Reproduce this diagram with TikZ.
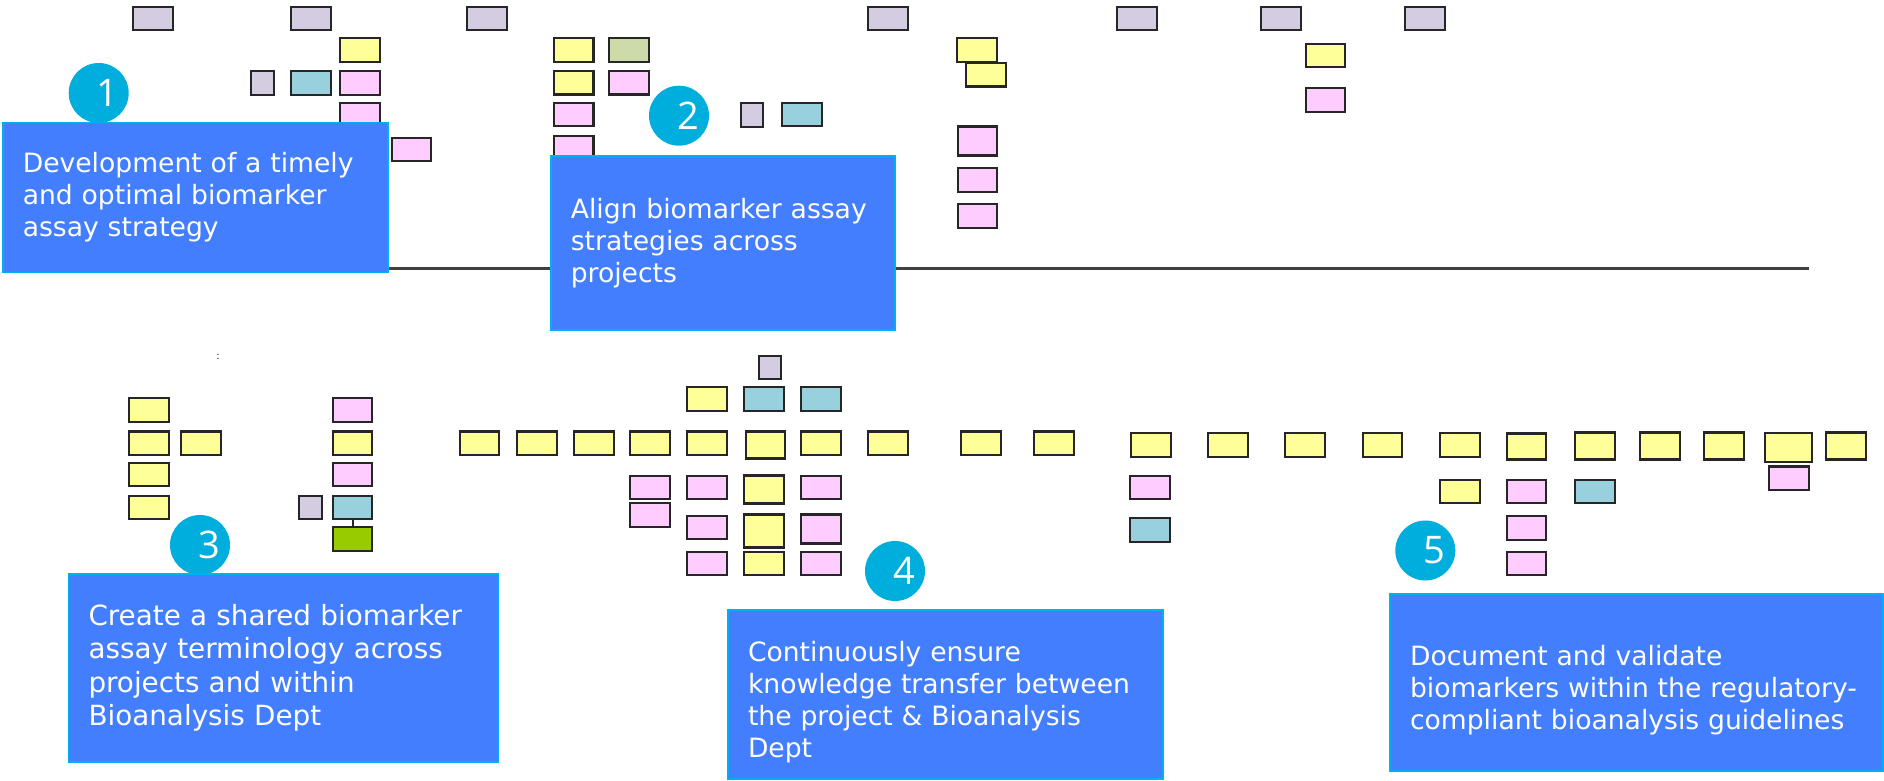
\documentclass[tikz,border=0pt]{standalone}
\usepackage{fontspec}
\setmainfont{DejaVu Sans}
\newfontfamily\numfont{Open Sans}
\definecolor{goalblue}{RGB}{67,126,255}
\definecolor{goalline}{RGB}{0,176,240}
\definecolor{numcyan}{RGB}{0,174,222}
\definecolor{noteyellow}{RGB}{255,255,153}
\definecolor{notepink}{RGB}{255,204,255}
\definecolor{notecyan}{RGB}{153,208,221}
\definecolor{notegray}{RGB}{212,204,224}
\definecolor{noteolive}{RGB}{204,219,168}
\definecolor{notegreen}{RGB}{153,204,0}
\tikzset{
  note/.style={draw=black!85, line width=2.2pt, minimum width=39.5pt, minimum height=23.5pt, inner sep=0pt},
  yel/.style={note, fill=noteyellow},
  pnk/.style={note, fill=notepink},
  cyn/.style={note, fill=notecyan},
  gry/.style={note, fill=notegray},
  olv/.style={note, fill=noteolive},
  grn/.style={note, fill=notegreen},
  sq/.style={gry, minimum width=22.5pt},
  goal/.style={fill=goalblue, draw=goalline, line width=1.5pt, text=white, inner xsep=20pt, inner ysep=0pt,
    align=left, font=\fontsize{26.6}{32}\selectfont},
  num/.style={circle, fill=numcyan, minimum size=60pt, inner sep=0pt, text=white, font=\numfont\fontsize{38}{38}\selectfont}
}
\begin{document}
\begin{tikzpicture}[x=1pt,y=-1pt]
  \useasboundingbox (0,0) rectangle (1884,781);

  \coordinate (lineL) at (300,268);
  \coordinate (lineR) at (1809,268);
  \draw[black!75, line width=3pt] (lineL) -- (lineR);

  \node[gry] (h1) at (153,18.5) {};
  \node[gry] (h2) at (311,18.5) {};
  \node[gry] (h3) at (487,18.5) {};
  \node[gry] (h4) at (888,18.5) {};
  \node[gry] (h5) at (1137,18.5) {};
  \node[gry] (h6) at (1281,18.5) {};
  \node[gry] (h7) at (1425,18.5) {};

  \node[yel] (a1) at (360,50) {};
  \node[sq]  (a2) at (262.5,83) {};
  \node[cyn] (a3) at (311,83) {};
  \node[pnk] (a4) at (360,83) {};
  \node[pnk] (a5) at (360,114.5) {};
  \node[pnk] (a6) at (411.5,149.5) {};

  \node[yel] (b1) at (573.7,50) {};
  \node[olv] (b2) at (629,50) {};
  \node[yel] (b3) at (573.7,82.7) {};
  \node[pnk] (b4) at (629,82.7) {};
  \node[pnk] (b5) at (573.7,114.5) {};
  \node[pnk] (b6) at (573.7,148) {};
  \node[sq]  (b7) at (752,115) {};
  \node[cyn] (b8) at (802,114.5) {};

  \node[yel] (d1) at (977,50) {};
  \node[yel] (d2) at (986,74.7) {};
  \node[pnk, minimum height=29pt] (d3) at (977.5,141) {};
  \node[pnk] (d4) at (977.5,180) {};
  \node[pnk] (d5) at (977.5,216) {};
  \node[yel] (f1) at (1325.5,55.5) {};
  \node[pnk] (f2) at (1325.5,100) {};

  \node[blue!70!black, font=\fontsize{10}{10}\selectfont] (mark) at (218,357) {:};
  \node[yel] (k1) at (149,410) {};
  \node[yel] (k2) at (149,443.3) {};
  \node[yel] (k3) at (201,443.3) {};
  \node[yel] (k4) at (149,474.5) {};
  \node[yel] (k5) at (149,507.5) {};
  \node[pnk] (k6) at (352.5,410) {};
  \node[yel] (k7) at (352.5,443.3) {};
  \node[pnk] (k8) at (352.5,474.5) {};
  \node[sq]  (k9) at (310.5,507.5) {};
  \node[cyn] (k10) at (352.5,507.5) {};
  \node[grn] (k11) at (352.5,539) {};
  \draw[black!85, line width=2pt] (k10) -- (k11);

  \node[sq]  (m0) at (770,367.5) {};
  \node[yel] (m1) at (707,399) {};
  \node[cyn] (m2) at (764,399) {};
  \node[cyn] (m3) at (821,399) {};
  \node[yel] (r1) at (479.5,443.3) {};
  \node[yel] (r2) at (537,443.3) {};
  \node[yel] (r3) at (594,443.3) {};
  \node[yel] (r4) at (650,443.3) {};
  \node[yel] (r5) at (707,443.3) {};
  \node[yel, minimum height=27pt] (r6) at (765.5,445) {};
  \node[yel] (r7) at (821,443.3) {};
  \node[yel] (r8) at (888,443.3) {};
  \node[yel] (r9) at (981,443.3) {};
  \node[yel] (r10) at (1054,443.3) {};
  \node[pnk] (s1) at (650,487.5) {};
  \node[pnk] (s2) at (650,515) {};
  \node[pnk] (s3) at (707,487.5) {};
  \node[pnk] (s4) at (707,527.5) {};
  \node[pnk] (s5) at (707,563.5) {};
  \node[yel, minimum height=28pt] (s6) at (764,489.5) {};
  \node[yel, minimum height=33pt] (s7) at (764,531) {};
  \node[yel] (s8) at (764,563.5) {};
  \node[pnk] (s9) at (821,487.5) {};
  \node[pnk, minimum height=29pt] (s10) at (821,529) {};
  \node[pnk] (s11) at (821,563.5) {};

  \node[yel] (t1) at (1151,445) {};
  \node[pnk] (t2) at (1150,487.5) {};
  \node[cyn] (t3) at (1150,530) {};
  \node[yel] (t4) at (1228,445) {};
  \node[yel] (t5) at (1305,445) {};
  \node[yel] (t6) at (1382.5,445) {};
  \node[yel] (t7) at (1460,445) {};
  \node[yel] (t8) at (1460,491.5) {};
  \node[yel, minimum height=26pt] (t9) at (1526.5,446.5) {};
  \node[pnk] (t10) at (1526.5,491.5) {};
  \node[pnk] (t11) at (1526.5,528) {};
  \node[pnk] (t12) at (1526.5,563.5) {};
  \node[yel, minimum height=27pt] (t13) at (1595,446) {};
  \node[cyn] (t14) at (1595,491.5) {};
  \node[yel, minimum height=27pt] (t15) at (1660,446) {};
  \node[yel, minimum height=27pt] (t16) at (1724,446) {};
  \node[yel, minimum width=47pt, minimum height=29pt] (t17) at (1788.3,447.5) {};
  \node[pnk] (t18) at (1789,478.3) {};
  \node[yel, minimum height=27pt] (t19) at (1846,446) {};

  \node[num] (n1) at (98.7,93) {\hspace*{18pt}1};
  \node[num] (n2) at (679,115.7) {\hspace*{18pt}2};
  \node[num] (n3) at (200,545) {\hspace*{18pt}3};
  \node[num] (n4) at (895,571) {\hspace*{18pt}4};
  \node[num] (n5) at (1425.3,550.5) {\hspace*{18pt}5};

  \node[goal, minimum width=385pt, minimum height=150pt, text width=345pt] (g1) at (195.3,197.5)
    {Development of a timely\\and optimal biomarker\\assay strategy};
  \node[goal, minimum width=344pt, minimum height=174pt, text width=304pt] (g2) at (722.8,243)
    {Align biomarker assay\\strategies across\\projects};
  \node[goal, minimum width=430pt, minimum height=188pt, text width=390pt,
    font=\fontsize{27.8}{33.4}\selectfont] (g3) at (283.5,668)
    {Create a shared biomarker\\assay terminology across\\projects and within\\Bioanalysis Dept};
  \node[goal, minimum width=435pt, minimum height=169pt, text width=395pt] (g4) at (945.5,694.5)
    {\rule{0pt}{36pt}Continuously ensure\\knowledge transfer between\\the project \& Bioanalysis\\Dept};
  \node[goal, minimum width=493pt, minimum height=177pt, text width=453pt] (g5) at (1636.5,682.5)
    {\rule{0pt}{36pt}Document and validate\\biomarkers within the regulatory-\\compliant bioanalysis guidelines};
\end{tikzpicture}
\end{document}
